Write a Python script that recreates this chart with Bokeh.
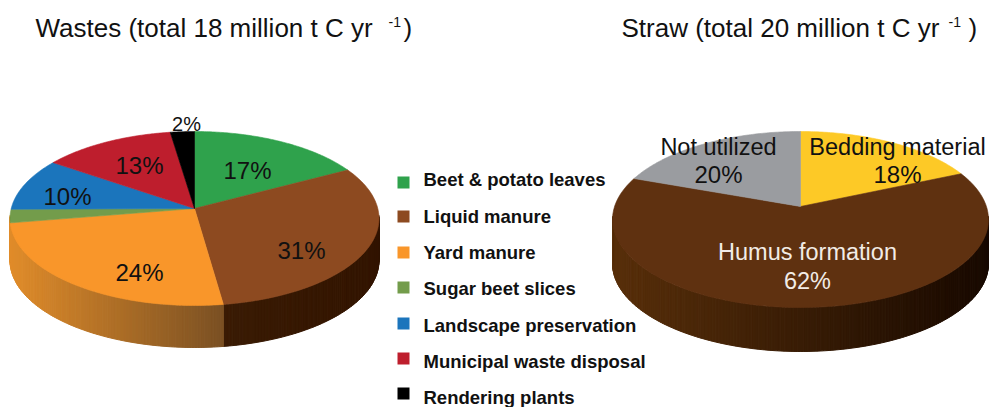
import numpy as np
from bokeh.plotting import figure
from bokeh.core.properties import value
from bokeh.embed import file_html
from bokeh.resources import INLINE

# Slice shares as they are drawn on the rim (the printed labels differ a little,
# because the original is a perspective view).
waste_names = ["Beet & potato leaves", "Liquid manure", "Yard manure", "Sugar beet slices",
               "Landscape preservation", "Municipal waste disposal", "Rendering plants"]
waste_shares = [15.6, 31.9, 26.7, 2.5, 9.4, 11.8, 2.1]
waste_labels = ["17%", "31%", "24%", "", "10%", "13%", "2%"]
waste_colors = ["#2fa24c", "#8d4a20", "#f9962a", "#739c4b", "#1b75bc", "#be1e2d", "#000000"]

straw_names = ["Bedding material", "Humus formation", "Not utilized"]
straw_shares = [16.3, 66.4, 17.3]
straw_labels = ["18%", "62%", "20%"]
straw_colors = ["#fdc926", "#5f3110", "#9a9ca0"]

titles = ["Wastes (total 18 million t C yr", "Straw (total 20 million t C yr"]

FONT = value("Liberation Sans")

p = figure(width=989, height=407, x_range=(0, 989), y_range=(407, 0),
           toolbar_location=None, output_backend="svg", min_border=0,
           outline_line_color=None, background_fill_color="white")
p.axis.visible = False
p.grid.visible = False


def rim(cx, cy, rx, ry, deg):
    t = np.radians(deg)
    return cx + rx * np.sin(t), cy - ry * np.cos(t)


def lerp(c0, c1, f):
    return "#%02x%02x%02x" % tuple(int(round(a + (b - a) * f)) for a, b in zip(c0, c1))


def draw_pie(shares, colors, cx, cy, rx, ry, ax, ay, depth, side_stops):
    edges = np.concatenate([[0], np.cumsum(shares)]) / np.sum(shares) * 360
    sx, sy, sc = [], [], []
    for a in np.arange(88.0, 272.0, 1.0):
        b = a + 1.0
        x0, y0 = rim(cx, cy, rx, ry, a)
        x1, y1 = rim(cx, cy, rx, ry, b)
        mid = (a + b) / 2
        i = min(np.searchsorted(edges, mid) - 1, len(shares) - 1)
        xm = (x0 + x1) / 2
        stops = side_stops[i] if i in side_stops else side_stops["other"]
        f = (xm - stops[0]) / (stops[1] - stops[0])
        sc.append(lerp(stops[2], stops[3], float(np.clip(f, 0, 1))))
        sx.append([x0, x1, x1, x0])
        sy.append([y0, y1, y1 + depth, y0 + depth])
    p.patches(sx, sy, fill_color=sc, line_color=sc, line_width=1)
    xs, ys = [], []
    for a0, a1 in zip(edges[:-1], edges[1:]):
        d = np.linspace(a0, a1, 90)
        x, y = rim(cx, cy, rx, ry, d)
        xs.append([ax] + list(x))
        ys.append([ay] + list(y))
    p.patches(xs, ys, fill_color=colors, line_color=colors, line_width=0.6)


draw_pie(waste_shares, waste_colors, 194, 218, 184.5, 87, 194, 208, 42,
         {1: (223, 378, (58, 27, 4), (50, 20, 0)),
          2: (10, 223, (224, 140, 42), (122, 80, 35)),
          "other": (0, 400, (224, 140, 42), (224, 140, 42))})
draw_pie(straw_shares, straw_colors, 800, 219, 188, 88, 800, 206, 44,
         {1: (612, 988, (88, 47, 10), (24, 9, 0)),
          "other": (612, 988, (88, 47, 10), (24, 9, 0))})


def put(xs, ys, texts, size, color="#111111", style="normal", align="center"):
    p.text(x=xs, y=ys, text=texts, text_font=FONT, text_font_size=size, text_color=color,
           text_align=align, text_baseline="middle", text_font_style=style)


put([35, 621], [27, 27], titles, "26px", align="left")
put([388, 948], [21, 21], ["-1", "-1"], "14px", align="left")
put([403, 968], [27, 27], [")", ")"], "26px", align="left")

put([247, 301, 139, 67, 139], [170, 250, 272, 196, 165],
    [waste_labels[0], waste_labels[1], waste_labels[2], waste_labels[4], waste_labels[5]], "24px")
put([186], [123], [waste_labels[6]], "20px")
put([718, 897], [146, 146], [straw_names[2], straw_names[0]], "23.5px")
put([718, 897], [174, 174], [straw_labels[2], straw_labels[0]], "24px")
put([807, 807], [251, 280], [straw_names[1], straw_labels[1]], "23.5px", color="#f2ece6")

leg_y = [182, 216, 252, 287, 323, 358, 393]
leg_text_y = [179, 216, 252, 288, 325, 361, 397]
p.scatter(x=[403] * len(leg_y), y=leg_y, marker="square", size=12,
          fill_color=waste_colors, line_color=None)
put([423] * len(leg_y), leg_text_y, waste_names, "18.5px", style="bold", align="left")

open("out.html", "w").write(file_html(p, INLINE))
